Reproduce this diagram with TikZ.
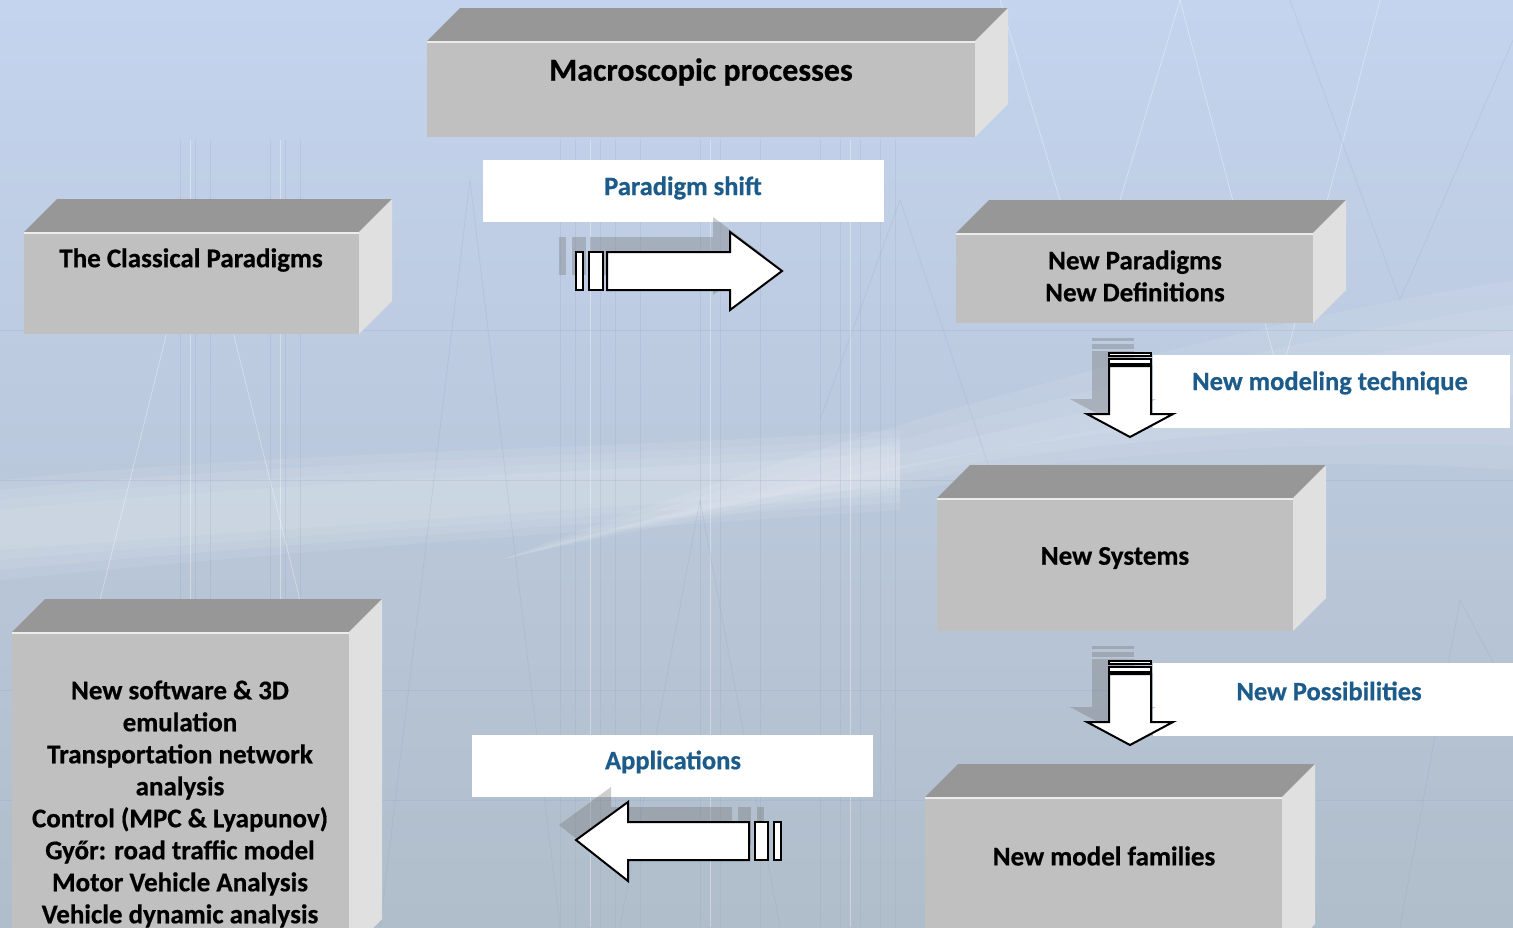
\documentclass[tikz,border=0pt]{standalone}
\usepackage{fontspec}
\setmainfont{Carlito}[BoldFont={Carlito Bold}, BoldFeatures={FakeBold=0.6}]
\definecolor{bgtop}{HTML}{C4D4EE}
\definecolor{bgmid}{HTML}{D0DDEB}
\definecolor{bgbot}{HTML}{B0BDCA}
\definecolor{frontc}{HTML}{C0C0C0}
\definecolor{topc}{HTML}{979797}
\definecolor{sidec}{HTML}{E0E0E0}
\definecolor{lblblue}{HTML}{1D5C8A}
\definecolor{texture}{HTML}{8EA3BE}
\tikzset{
  frontface/.style={fill=frontc, inner sep=0pt, outer sep=0pt, draw=none},
  topface/.style={fill=topc},
  sideface/.style={fill=sidec},
  boxtext/.style={font=\bfseries\fontsize{27}{32}\selectfont, align=center, text=black, inner sep=0pt},
  lblbox/.style={fill=white, inner sep=0pt, outer sep=0pt},
  lbltext/.style={font=\bfseries\fontsize{26.5}{30}\selectfont, text=lblblue, inner sep=0pt},
  blockarrow/.style={fill=white, draw=black, line width=2pt, line join=miter},
  arrowshadow/.style={fill=black!55, opacity=0.35},
  tex/.style={draw=texture, opacity=0.22, line width=0.8pt},
  texw/.style={draw=white, opacity=0.35, line width=0.8pt},
  glow/.style={fill=white, opacity=0.08}
}
\newcommand{\cubebox}[5]{%
  \node[frontface, minimum width=#4pt, minimum height=#5pt, anchor=north west] (#1) at (#2,#3) {};
  \fill[topface] (#1.north west) -- ++(33,-33) -- ++(#4,0) -- (#1.north east) -- cycle;
  \fill[sideface] (#1.north east) -- ++(33,-33) -- ++(0,#5) -- (#1.south east) -- cycle;
  \draw[white!70!frontc, line width=2pt] ([yshift=-1pt]#1.north west) -- ([yshift=-1pt]#1.north east);
}
\newcommand{\rightarrowshape}[1]{%
  \path[#1] (576,252) rectangle (583,290);
  \path[#1] (589,252) rectangle (603,290);
  \path[#1] (607,252) -- (730,252) -- (730,232) -- (782,271) -- (730,310) -- (730,290) -- (607,290) -- cycle;
}
\newcommand{\leftarrowshape}[1]{%
  \path[#1] (755,822) rectangle (768,860);
  \path[#1] (774,822) rectangle (781,860);
  \path[#1] (749,822) -- (628,822) -- (628,802) -- (576,840) -- (628,881) -- (628,860) -- (749,860) -- cycle;
}
\newcommand{\downarrowshape}[2]{%
  \begin{scope}[yshift=-#2pt]
  \path[#1] (1109,353) rectangle (1151,356);
  \path[#1] (1109,359) rectangle (1151,364);
  \path[#1] (1109,366) -- (1151,366) -- (1151,414) -- (1173,414) -- (1130,437) -- (1087,414) -- (1109,414) -- cycle;
  \end{scope}
}
\begin{document}
\begin{tikzpicture}[x=1pt,y=-1pt]
\useasboundingbox (0,0) rectangle (1513,927);
\clip (0,0) rectangle (1513,927);
% background
\shade[top color=bgtop, middle color=bgmid, bottom color=bgbot] (0,0) rectangle (1513,927);
\foreach \d in {0,25,50,75}{
  \fill[glow] (500,560) .. controls (850,{430+\d*0.6}) and (1200,{330+\d}) .. (1513,{280+\d}) -- (1513,{470-\d}) .. controls (1200,{450-\d*0.5}) and (850,{480-\d*0.3}) .. (500,560) -- cycle;
  \fill[glow] (0,{480+\d*0.4}) .. controls (300,{450+\d*0.4}) and (600,{450+\d*0.3}) .. (900,{430+\d*0.3}) -- (900,{510-\d*0.3}) .. controls (600,{530-\d*0.3}) and (300,{550-\d*0.3}) .. (0,{580-\d*0.4}) -- cycle;
}
% texture lines
\foreach \xx in {180,195,210,270,285,300,560,575,600,615,640,700,720,760,820,840,860,880,895}
  \draw[tex] (\xx,140) -- (\xx,927);
\foreach \xx in {190,280,590,710,850}
  \draw[texw] (\xx,140) -- (\xx,927);
\foreach \yy in {330,480,690,800}
  \draw[tex] (0,\yy) -- (1513,\yy);
\draw[tex] (380,927) -- (470,180) -- (560,927);
\draw[tex] (620,927) -- (700,500) -- (780,927);
\draw[texw] (1000,0) -- (1090,300) -- (1180,0);
\draw[texw] (1180,0) -- (1280,380) -- (1380,0);
\draw[tex] (1290,0) -- (1400,300) -- (1513,40);
\draw[tex] (820,420) -- (900,200) -- (1000,500);
\draw[tex] (1400,927) -- (1460,600) -- (1513,700);
\draw[texw] (100,600) -- (200,200) -- (300,600);
% boxes
\cubebox{macro}{427}{41}{548}{96}
\cubebox{classic}{24}{232}{335}{102}
\cubebox{newpar}{956}{233}{357}{90}
\cubebox{newsys}{937}{498}{356}{133}
\cubebox{newfam}{925}{797}{357}{160}
\cubebox{apps}{12}{632}{337}{320}
% box texts
\node[boxtext, font=\bfseries\fontsize{32}{36}\selectfont] (tmacro) at (701,72) {Macroscopic processes};
\node[boxtext] (tclassic) at (191,260) {The Classical Paradigms};
\node[boxtext] (tnewpar) at (1135,276) {New Paradigms\\New Definitions};
\node[boxtext] (tnewsys) at (1115,558) {New Systems};
\node[boxtext] (tnewfam) at (1104,856) {New model families};
\node[boxtext] (tapps) at (180,804) {New software \& 3D\\emulation\\Transportation network\\analysis\\Control (MPC \& Lyapunov)\\Győr: road traffic model\\Motor Vehicle Analysis\\Vehicle dynamic analysis};
% label boxes
\node[lblbox, minimum width=401pt, minimum height=62pt] (lshift) at (683.5,191) {};
\node[lbltext] (tshift) at (683,188) {Paradigm shift};
\node[lblbox, minimum width=357pt, minimum height=73pt] (ltech) at (1331.5,391.5) {};
\node[lbltext] (ttech) at (1330,383) {New modeling technique};
\node[lblbox, minimum width=360pt, minimum height=73pt] (lposs) at (1333,699.5) {};
\node[lbltext] (tposs) at (1329,691) {New Possibilities};
\node[lblbox, minimum width=401pt, minimum height=62pt] (lapps) at (672.5,766) {};
\node[lbltext] (tappl) at (673,762) {Applications};
% block arrows with shadows
\begin{scope}[shift={(-17,-15)}]
  \rightarrowshape{arrowshadow}
  \leftarrowshape{arrowshadow}
  \downarrowshape{arrowshadow}{0}
  \downarrowshape{arrowshadow}{308}
\end{scope}
\rightarrowshape{blockarrow}
\leftarrowshape{blockarrow}
\downarrowshape{blockarrow}{0}
\downarrowshape{blockarrow}{308}
\end{tikzpicture}
\end{document}
